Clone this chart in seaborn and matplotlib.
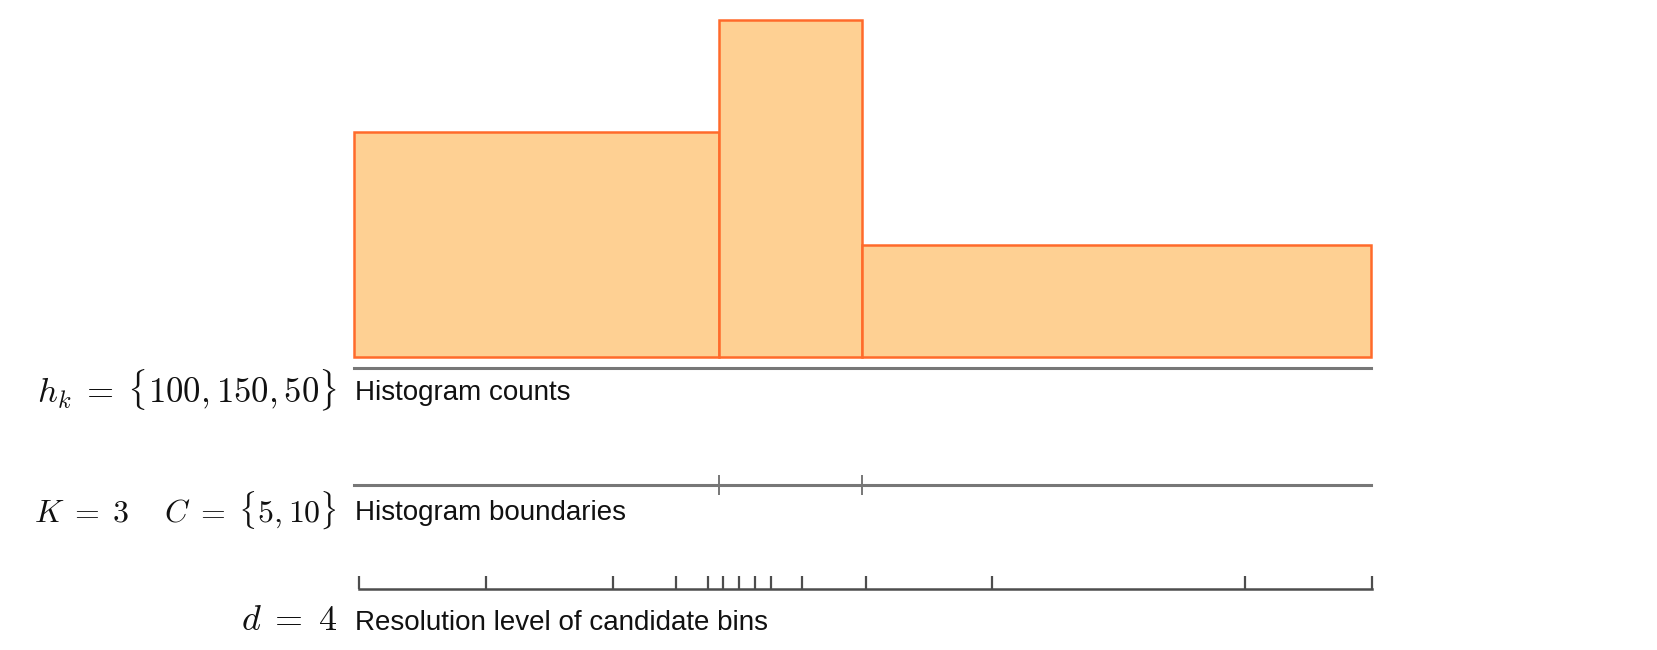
import matplotlib
matplotlib.use("Agg")
import matplotlib.pyplot as plt
import numpy as np
import seaborn as sns

# ── Data ────────────────────────────────────────────────────────
BIN_EDGES = [0, 23, 32, 64]          # histogram bin edges (axis units)
COUNTS    = [100, 150, 50]           # h_k
RES_EDGES = [0, 8, 16, 20, 22, 23, 24, 25, 26, 28, 32, 40, 56, 64]  # d = 4 candidate bins
X_MAX     = 64

ROW_TEXT  = ["Histogram counts", "Histogram boundaries",
             "Resolution level of candidate bins"]
ROW_MATH  = [r"$h_k \;=\; \{100, 150, 50\}$",
             r"$K \;=\; 3 \quad\; C \;=\; \{5, 10\}$",
             r"$d \;=\; 4$"]
MATH_SIZE = [25, 23, 26]

FILL   = "#fed093"
EDGE   = "#ff6a2b"
GREY   = "#777777"
DARK   = "#4d4d4d"

sns.set_theme(style="white")
plt.rcParams["font.family"] = ["Liberation Sans", "DejaVu Sans"]
plt.rcParams["mathtext.fontset"] = "cm"

W, H = 1658, 650
fig = plt.figure(figsize=(W / 100, H / 100), dpi=100)


def fx(px):
    return px / W


def fy(py):
    return 1 - py / H


# ── Histogram ───────────────────────────────────────────────────
ax_h = fig.add_axes([fx(354), fy(357), fx(1371 - 354), (357 - 20) / H])
centers = [(a + b) / 2 for a, b in zip(BIN_EDGES[:-1], BIN_EDGES[1:])]
sns.histplot(x=centers, weights=COUNTS, bins=BIN_EDGES, ax=ax_h,
             color=FILL, edgecolor=EDGE, linewidth=1.8, alpha=1)
for p in ax_h.patches:
    p.set_facecolor(FILL)
    p.set_clip_on(False)
ax_h.set_xlim(0, X_MAX)
ax_h.set_ylim(0, max(COUNTS))
ax_h.set_xticks([])
ax_h.set_yticks([])
ax_h.set_xlabel("")
ax_h.set_ylabel("")
for s in ["top", "left", "right"]:
    ax_h.spines[s].set_visible(False)
ax_h.spines["bottom"].set_position(("outward", 8))
ax_h.spines["bottom"].set_color(GREY)
ax_h.spines["bottom"].set_linewidth(2.2)

# ── Histogram boundaries axis ───────────────────────────────────
ax_b = fig.add_axes([fx(354), fy(485), fx(1371 - 354), 0.001])
ax_b.set_xlim(0, X_MAX)
ax_b.set_xticks(BIN_EDGES[1:-1])
ax_b.set_xticklabels([])
ax_b.set_yticks([])
ax_b.tick_params(axis="x", direction="inout", length=15, width=1.4,
                 color=GREY, bottom=True)
for s in ["top", "left", "right"]:
    ax_b.spines[s].set_visible(False)
ax_b.spines["bottom"].set_color(GREY)
ax_b.spines["bottom"].set_linewidth(2.2)
ax_b.patch.set_visible(False)

# ── Candidate bins axis ─────────────────────────────────────────
ax_r = fig.add_axes([fx(359.5), fy(589), fx(1372 - 359.5), 0.001])
ax_r.set_xlim(0, X_MAX)
ax_r.set_xticks(RES_EDGES)
ax_r.set_xticklabels([])
ax_r.set_yticks([])
ax_r.tick_params(axis="x", direction="in", length=9.5, width=1.6,
                 color=DARK, bottom=True)
for s in ["top", "left", "right"]:
    ax_r.spines[s].set_visible(False)
ax_r.spines["bottom"].set_color(DARK)
ax_r.spines["bottom"].set_linewidth(1.8)
ax_r.patch.set_visible(False)

# ── Labels ──────────────────────────────────────────────────────
ys = [393, 513, 623]
for txt, math, size, y in zip(ROW_TEXT, ROW_MATH, MATH_SIZE, ys):
    fig.text(fx(355), fy(y), txt, fontsize=20, color="#111111",
             ha="left", va="center")
    fig.text(fx(337), fy(y - 3), math, fontsize=size,
             color="#111111", ha="right", va="center")

fig.savefig("out.png", dpi=100)
plt.close(fig)
